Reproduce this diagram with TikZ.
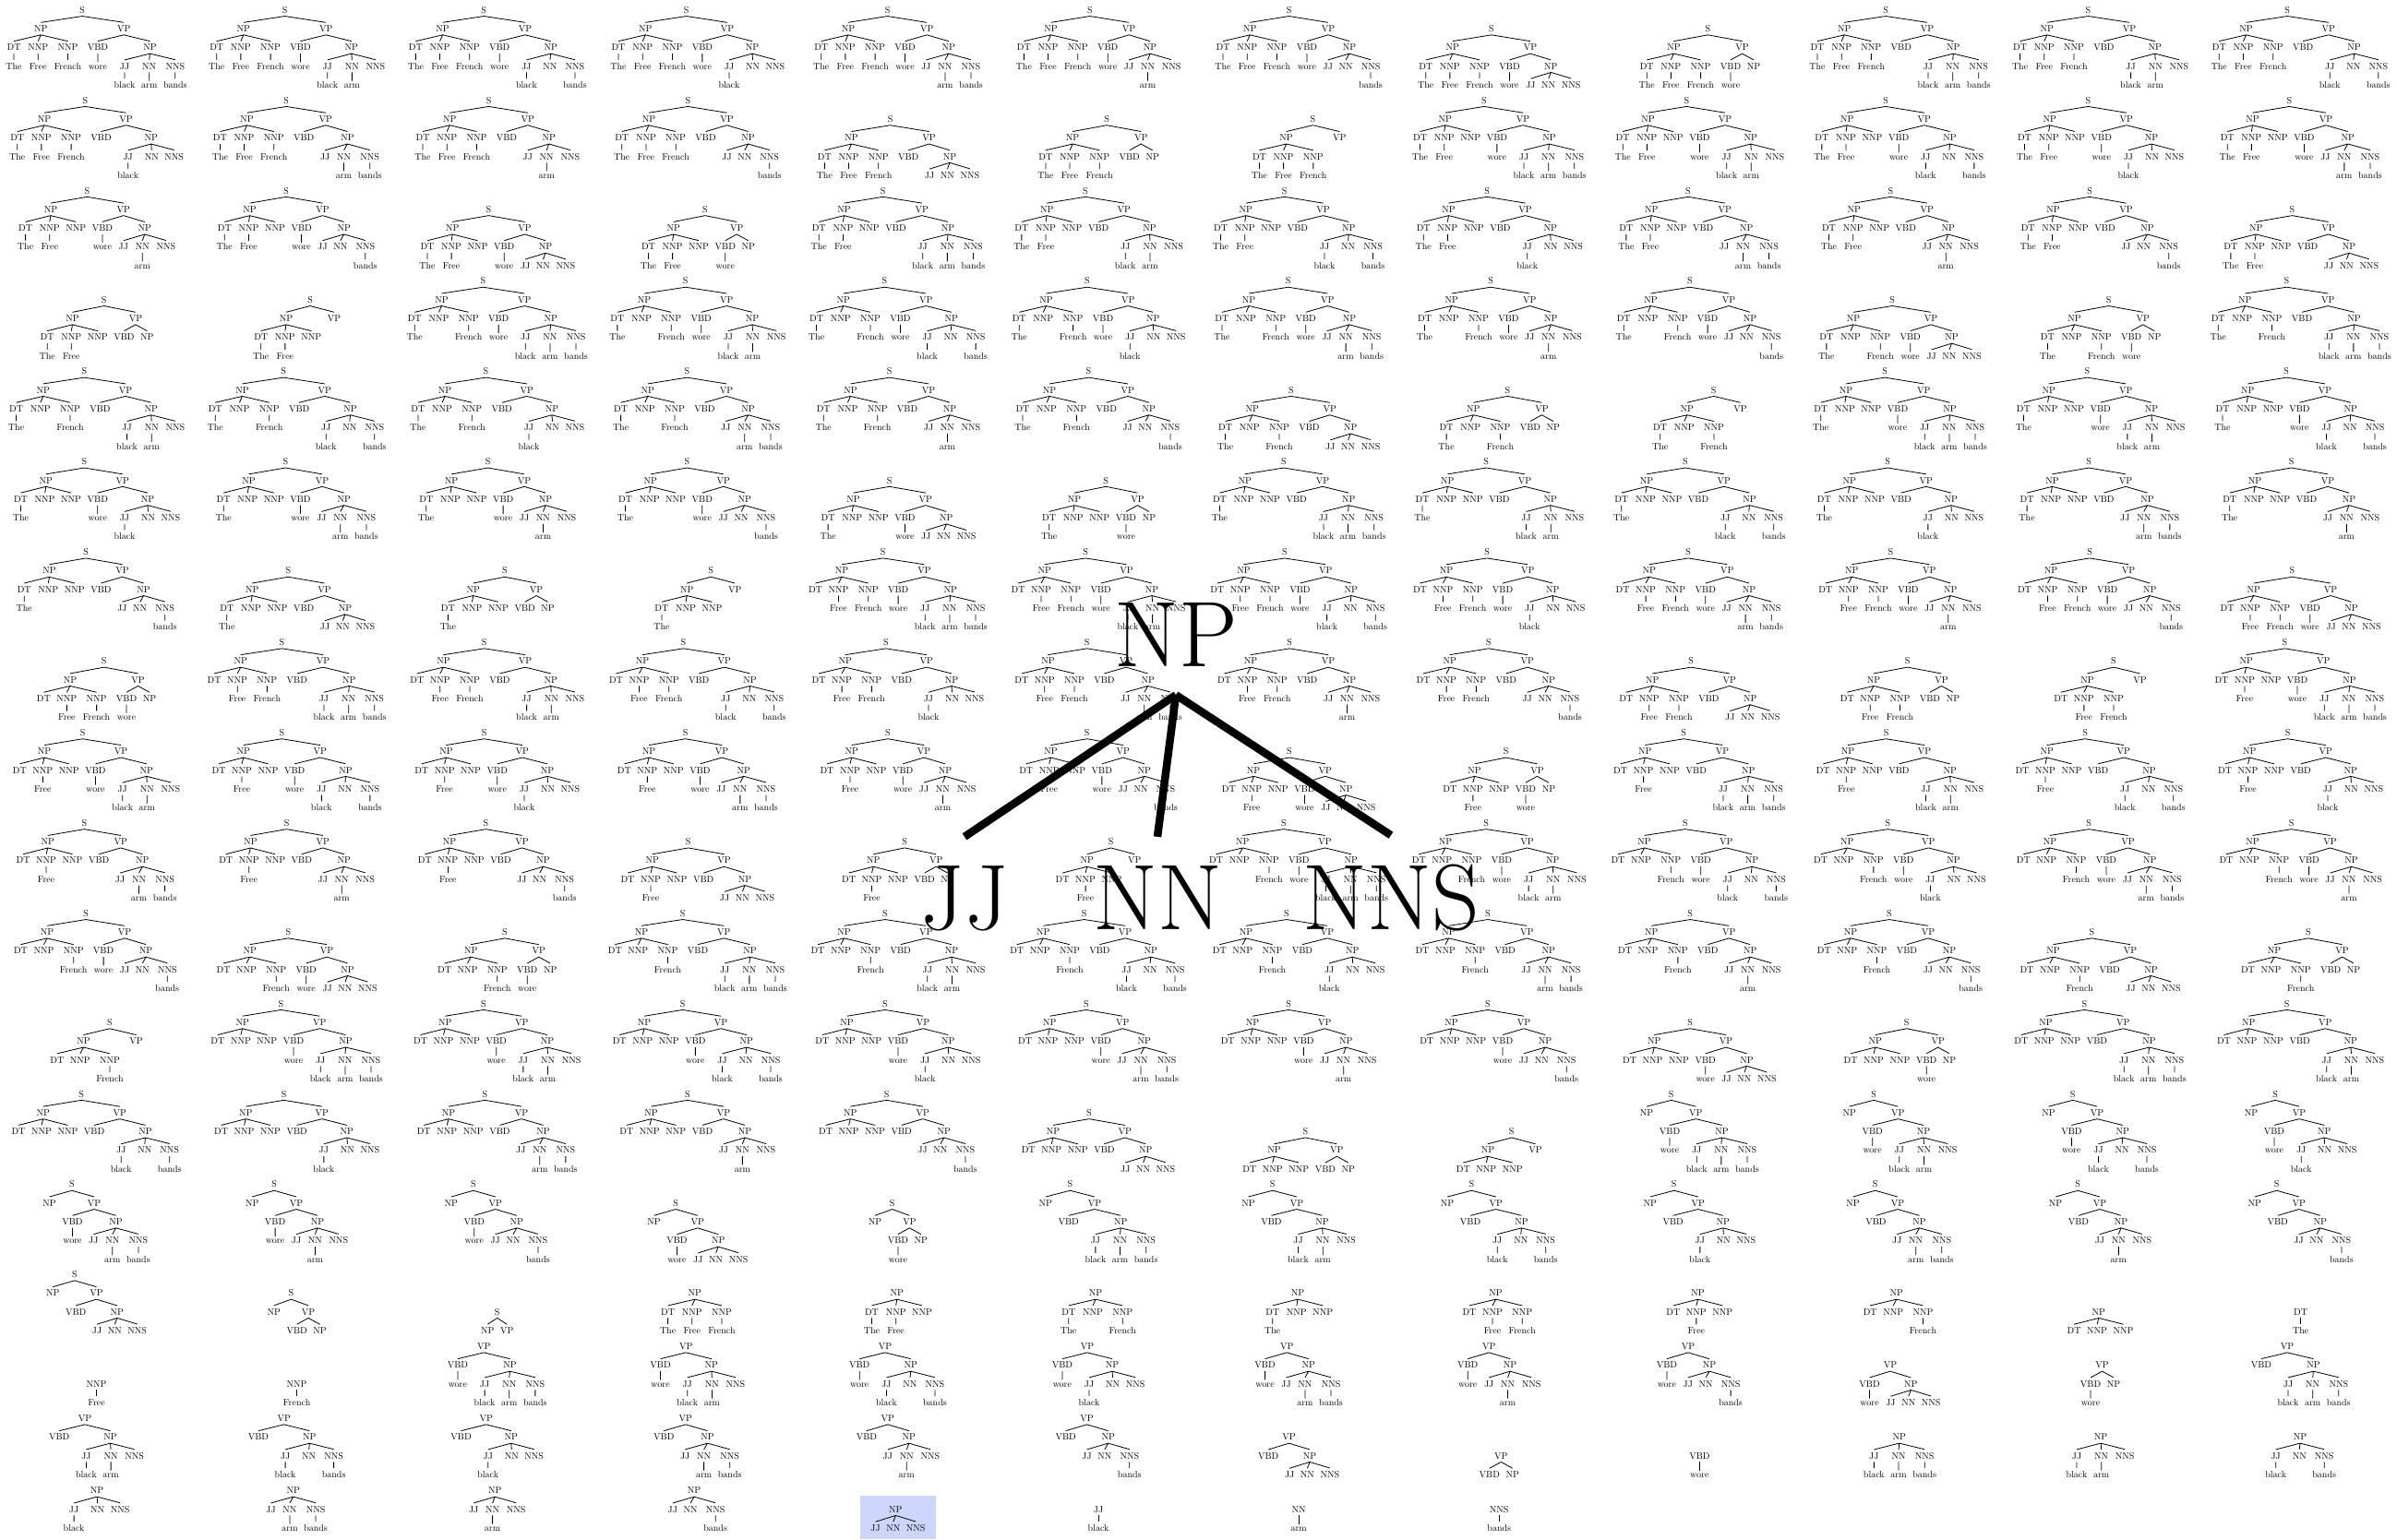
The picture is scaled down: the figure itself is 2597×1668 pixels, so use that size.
\documentclass[tikz,border=0pt]{standalone}
\usepackage{fontspec}
\usetikzlibrary{backgrounds}
\definecolor{hlblue}{RGB}{205,213,250}
\tikzset{
  bigtag/.style={font=\fontsize{101}{101}\selectfont,inner sep=31pt,anchor=base},
  bigedge/.style={line width=8.5pt},
  hlbox/.style={fill=hlblue}
}
\newdimen\isep \isep=3.33pt
\newdimen\gapx \gapx=0pt
\newdimen\levd \levd=20.3pt
\newdimen\segx \newdimen\segy
\newcount\maxk \newcount\countk \newcount\treeno
\newcommand\gobblethree[3]{}
\newcommand\gobblefive[5]{}
\newcommand\measuretext[1]{%
  \setbox0=\hbox{#1}%
  \expandafter\edef\csname tw#1\endcsname{\the\wd0}%
  \expandafter\edef\csname th#1\endcsname{\the\ht0}}
\newcommand\measurecol[2]{%
  \setbox0=\hbox{#1}\setbox2=\hbox{#2}%
  \ifdim\wd2>\wd0 \wd0=\wd2 \fi
  \expandafter\edef\csname cw#1#2\endcsname{\the\dimexpr\wd0+2\isep\relax}}
\newcommand\colw[3]{\edef#3{\csname cw#1#2\endcsname}}
\newcommand\bitsof[1]{%
  \pgfmathtruncatemacro\fone{mod(floor((7-(#1))/4),2)}%
  \pgfmathtruncatemacro\ftwo{mod(floor((7-(#1))/2),2)}%
  \pgfmathtruncatemacro\fthree{mod(7-(#1),2)}}
% tree description
\newcommand\setsubj[1]{%
  \ifnum#1=8 \def\nbare{1}\else
    \def\nbare{0}\bitsof{#1}%
    \edef\nwa{\ifnum\fone=1 The\fi}\edef\nwb{\ifnum\ftwo=1 Free\fi}\edef\nwc{\ifnum\fthree=1 French\fi}%
  \fi}
\newcommand\setobj[1]{%
  \def\obare{0}\bitsof{#1}%
  \edef\owa{\ifnum\fone=1 black\fi}\edef\owb{\ifnum\ftwo=1 arm\fi}\edef\owc{\ifnum\fthree=1 bands\fi}}
\newcommand\setvp[1]{%
  \def\vbare{0}%
  \ifnum#1<9 \def\vwore{wore}\setobj{#1-1}%
  \else\ifnum#1=9 \def\vwore{wore}\def\obare{1}%
  \else\ifnum#1<18 \def\vwore{}\setobj{#1-10}%
  \else\ifnum#1=18 \def\vwore{}\def\obare{1}%
  \else \def\vbare{1}%
  \fi\fi\fi\fi}
% widths and root offsets
\newcommand\calcN{%
  \ifnum\nbare=1
    \edef\nW{\the\dimexpr\twNP+2\isep\relax}\edef\nR{\the\dimexpr\nW/2\relax}%
  \else
    \colw{DT}\nwa\cna \colw{NNP}\nwb\cnb \colw{NNP}\nwc\cnc
    \edef\nW{\the\dimexpr\cna+\cnb+\cnc+2\gapx\relax}%
    \edef\nA{\the\dimexpr\cna/2\relax}%
    \edef\nB{\the\dimexpr\cna+\gapx+\cnb/2\relax}%
    \edef\nC{\the\dimexpr\nW-\cnc/2\relax}%
    \edef\nR{\the\dimexpr(\nA+\nC)/2\relax}%
  \fi}
\newcommand\calcO{%
  \ifnum\obare=1
    \edef\oW{\the\dimexpr\twNP+2\isep\relax}\edef\oR{\the\dimexpr\oW/2\relax}%
  \else
    \colw{JJ}\owa\coa \colw{NN}\owb\cob \colw{NNS}\owc\coc
    \edef\oW{\the\dimexpr\coa+\cob+\coc+2\gapx\relax}%
    \edef\oA{\the\dimexpr\coa/2\relax}%
    \edef\oB{\the\dimexpr\coa+\gapx+\cob/2\relax}%
    \edef\oC{\the\dimexpr\oW-\coc/2\relax}%
    \edef\oR{\the\dimexpr(\oA+\oC)/2\relax}%
  \fi}
\newcommand\calcV{%
  \ifnum\vbare=1
    \edef\vW{\the\dimexpr\twVP+2\isep\relax}\edef\vR{\the\dimexpr\vW/2\relax}%
  \else
    \calcO
    \colw{VBD}\vwore\cwv
    \edef\vA{\the\dimexpr\cwv/2\relax}%
    \edef\vO{\the\dimexpr\cwv+\gapx\relax}%
    \edef\vW{\the\dimexpr\vO+\oW\relax}%
    \edef\vR{\the\dimexpr(\vA+\vO+\oR)/2\relax}%
  \fi}
\newcommand\calcS{\calcV\calcN
  \edef\rV{\the\dimexpr\nW+\gapx\relax}%
  \edef\rW{\the\dimexpr\rV+\vW\relax}%
  \edef\rR{\the\dimexpr(\nR+\rV+\vR)/2\relax}}
% collecting labels and edges
\newcommand\addnode[3]{%
  \segx=\dimexpr#1\relax \countk=\numexpr#2\relax
  \ifnum\countk>\maxk \maxk=\countk\fi
  \edef\tlist{\unexpanded\expandafter{\tlist}\noexpand\tnode{\the\segx}{\the\countk}{#3}}}
\newcommand\addedge[5]{%
  \edef\tlist{\unexpanded\expandafter{\tlist}\noexpand\tedge{\the\dimexpr#1\relax}{\the\numexpr#2\relax}{\the\dimexpr#3\relax}{\the\numexpr#4\relax}{#5}}}
\newcommand\emitpre[6]{%
  \addnode{#1+#4}{#2+1}{#5}%
  \addedge{#1+#3}{#2}{#1+#4}{#2+1}{#5}%
  \ifx#6\empty\else
    \addnode{#1+#4}{#2+2}{#6}%
    \addedge{#1+#4}{#2+1}{#1+#4}{#2+2}{#6}%
  \fi}
\newcommand\emitN[2]{%
  \addnode{#1+\nR}{#2}{NP}%
  \ifnum\nbare=0
    \emitpre{#1}{#2}{\nR}{\nA}{DT}\nwa
    \emitpre{#1}{#2}{\nR}{\nB}{NNP}\nwb
    \emitpre{#1}{#2}{\nR}{\nC}{NNP}\nwc
  \fi}
\newcommand\emitO[2]{%
  \addnode{#1+\oR}{#2}{NP}%
  \ifnum\obare=0
    \emitpre{#1}{#2}{\oR}{\oA}{JJ}\owa
    \emitpre{#1}{#2}{\oR}{\oB}{NN}\owb
    \emitpre{#1}{#2}{\oR}{\oC}{NNS}\owc
  \fi}
\newcommand\emitV[2]{%
  \addnode{#1+\vR}{#2}{VP}%
  \ifnum\vbare=0
    \emitpre{#1}{#2}{\vR}{\vA}{VBD}\vwore
    \addedge{#1+\vR}{#2}{#1+\vO+\oR}{#2+1}{NP}%
    \emitO{#1+\vO}{#2+1}%
  \fi}
\newcommand\emitS{%
  \addnode{\rR}{0}{S}%
  \addedge{\rR}{0}{\nR}{1}{NP}\emitN{0pt}{1}%
  \addedge{\rR}{0}{\rV+\vR}{1}{VP}\emitV{\rV}{1}}
\newcommand\emitP[2]{%
  \def\pw{#2}\colw{#1}\pw\pW
  \let\tW\pW
  \addnode{\pW/2}{0}{#1}\addnode{\pW/2}{1}{#2}\addedge{\pW/2}{0}{\pW/2}{1}{#2}}
% drawing
\newcommand\labelput[3]{\rlap{\kern\dimexpr#1-\csname tw#3\endcsname/2\relax\raise\dimexpr\levd*(\maxk-#2)\relax\hbox{#3}}}
\newcommand\edgeseg[5]{%
  \segx=\dimexpr\tX+#1\relax
  \segy=\dimexpr\tY+\levd*(\maxk-#2)-\isep\relax
  \pgfpathmoveto{\pgfqpoint{\segx}{\segy}}%
  \segx=\dimexpr\tX+#3\relax
  \segy=\dimexpr\tY+\levd*(\maxk-#4)+\csname th#5\endcsname+\isep\relax
  \pgfpathlineto{\pgfqpoint{\segx}{\segy}}}
\newcommand\drawtree{%
  \global\advance\treeno by 1
  \pgfmathtruncatemacro\tcol{mod(\the\treeno-1,12)}%
  \pgfmathtruncatemacro\trow{floor((\the\treeno-1)/12)+1}%
  \pgfmathsetmacro\tcx{217.1*(\tcol+0.5)-4}%
  \ifnum\trow<15 \pgfmathsetmacro\tbase{92+97.9*(\trow-1)}%
  \else\ifcase\numexpr\trow-15\relax \def\tbase{1442}\or\def\tbase{1520}\or\def\tbase{1598}\or\def\tbase{1656}\fi\fi
  \edef\tX{\the\dimexpr\tcx pt-\tW/2\relax}%
  \edef\tY{\the\dimexpr-\tbase pt-3.4pt\relax}%
  \pgftext[left,base,at={\pgfqpoint{\tX}{\tY}}]{\normalfont\fontsize{10}{12}\selectfont\let\tnode\labelput\let\tedge\gobblefive\tlist}%
  \begin{pgfscope}\pgfsetlinewidth{0.8pt}\let\tnode\gobblethree\let\tedge\edgeseg\tlist\pgfusepath{stroke}\end{pgfscope}%
  \ifnum\treeno=209
    \xdef\hlL{\the\dimexpr\tX-8pt\relax}\xdef\hlR{\the\dimexpr\tX+\tW+8pt\relax}%
    \xdef\hlT{\the\dimexpr\tY+\levd*\maxk+\thNP+\isep+8pt\relax}%
  \fi}
\newcommand\newtree{\def\tlist{}\maxk=0 }

\begin{document}
\measuretext{S}\measuretext{NP}\measuretext{VP}\measuretext{DT}\measuretext{NNP}%
\measuretext{VBD}\measuretext{JJ}\measuretext{NN}\measuretext{NNS}%
\measuretext{The}\measuretext{Free}\measuretext{French}\measuretext{wore}%
\measuretext{black}\measuretext{arm}\measuretext{bands}%
\measurecol{DT}{}\measurecol{DT}{The}\measurecol{NNP}{}\measurecol{NNP}{Free}\measurecol{NNP}{French}%
\measurecol{VBD}{}\measurecol{VBD}{wore}\measurecol{JJ}{}\measurecol{JJ}{black}%
\measurecol{NN}{}\measurecol{NN}{arm}\measurecol{NNS}{}\measurecol{NNS}{bands}%
\begin{tikzpicture}
\path (0,0) rectangle (2597pt,-1668pt);

\foreach \s in {0,...,8}{\foreach \v in {1,...,19}{%
  \newtree\setsubj{\s}\setvp{\v}\calcS\emitS\let\tW\rW\drawtree}}
\foreach \s in {0,...,7}{\newtree\setsubj{\s}\calcN\emitN{0pt}{0}\let\tW\nW\drawtree}
\newtree\emitP{DT}{The}\drawtree
\newtree\emitP{NNP}{Free}\drawtree
\newtree\emitP{NNP}{French}\drawtree
\foreach \v in {1,...,18}{\newtree\setvp{\v}\calcV\emitV{0pt}{0}\let\tW\vW\drawtree}
\newtree\emitP{VBD}{wore}\drawtree
\foreach \ob in {0,...,7}{\newtree\setobj{\ob}\calcO\emitO{0pt}{0}\let\tW\oW\drawtree}
\newtree\emitP{JJ}{black}\drawtree
\newtree\emitP{NN}{arm}\drawtree
\newtree\emitP{NNS}{bands}\drawtree

\begin{scope}[on background layer]
  \fill[hlbox] (\hlL,\hlT) rectangle (\hlR,-1668pt);
\end{scope}

\node[bigtag] (bnp) at (1274pt,-722pt) {NP};
\node[bigtag] (bjj) at (1045pt,-1007pt) {JJ};
\node[bigtag] (bnn) at (1254pt,-1007pt) {NN};
\node[bigtag] (bnns) at (1507pt,-1007pt) {NNS};
\draw[bigedge] (bnp.south) -- (bjj.north);
\draw[bigedge] (bnp.south) -- (bnn.north);
\draw[bigedge] (bnp.south) -- (bnns.north);
\end{tikzpicture}
\end{document}
